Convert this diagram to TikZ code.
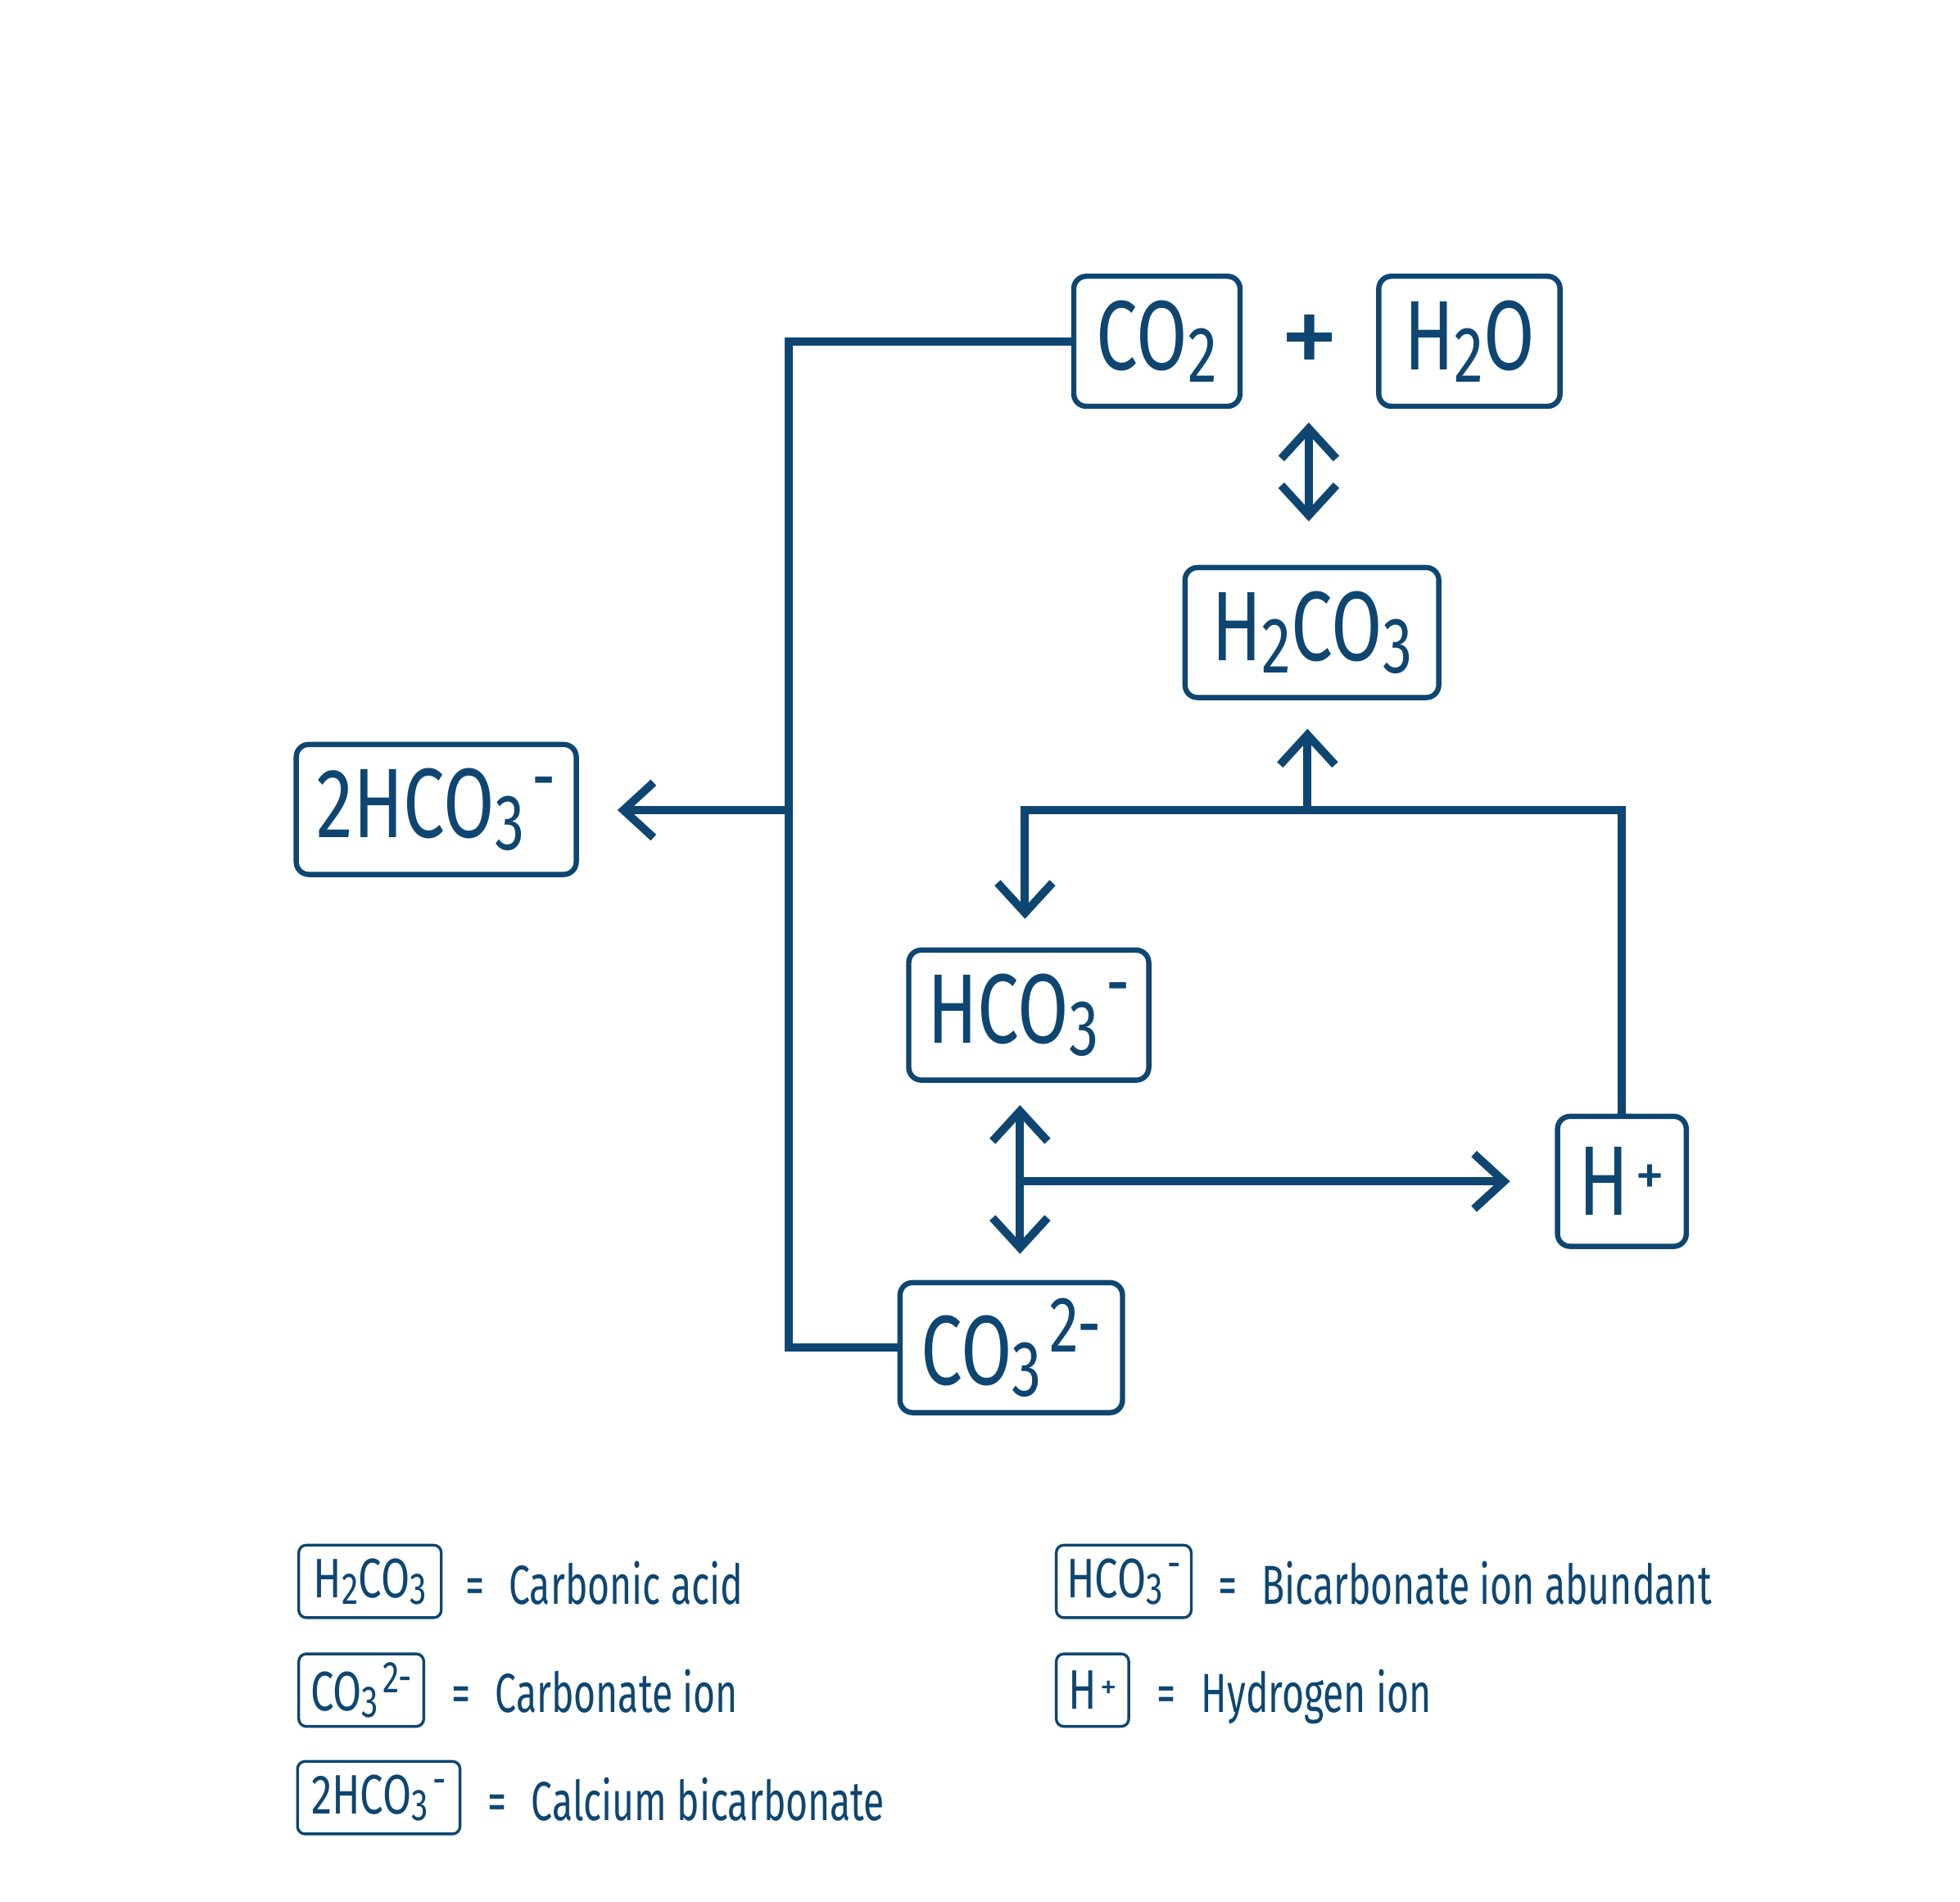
\documentclass[tikz,border=0pt]{standalone}
\usepackage{fontspec}
\setmainfont[FakeStretch=0.75]{Fira Sans}
\newfontfamily\legfont[FakeStretch=0.69]{Fira Sans}
\newfontfamily\plusfont{Fira Sans}
\usetikzlibrary{arrows.meta}
\definecolor{dblue}{HTML}{0E4671}
\newcommand\chsub[1]{\raisebox{-0.12em}{\scalebox{0.8}{#1}}}
\newcommand\chsup[1]{\hspace{0.08em}\raisebox{0.33em}{\scalebox{0.8}{#1}}}
\newcommand\chplus{\hspace{0.06em}\raisebox{0.2em}{\scalebox{0.6}{\plusfont +}}}
\tikzset{
  mbox/.style={draw=dblue, line width=4.2pt, rounded corners=10pt, inner sep=0pt,
    text=dblue, font=\fontsize{79}{80}\selectfont, minimum height=104pt},
  lbox/.style={draw=dblue, line width=2.2pt, rounded corners=6pt, inner sep=0pt,
    text=dblue, font=\fontsize{44.5}{46}\selectfont, minimum height=58pt},
  ltxt/.style={text=dblue, inner sep=0pt, font=\legfont\fontsize{44}{46}\selectfont},
  conn/.style={draw=dblue, line width=6.5pt, line join=miter},
  tip/.tip={Straight Barb[length=24pt, width=44pt, sharp]}
}
\begin{document}
\begin{tikzpicture}[x=1pt, y=-1pt]
\useasboundingbox[fill=white] (0,0) rectangle (1568,1521);

% main boxes
\node[mbox, minimum width=133pt] (co2) at (925.5,273) {CO\chsub{2}};
\node[mbox, minimum width=145pt] (h2o) at (1175.5,273) {H\chsub{2}O};
\node[mbox, minimum width=203pt] (h2co3) at (1049.5,506) {H\chsub{2}CO\chsub{3}};
\node[mbox, minimum width=192pt] (hco3) at (823,812) {HCO\chsub{3}\chsup{-}};
\node[mbox, minimum width=103pt] (hplus) at (1297.5,945) {H\chplus};
\node[mbox, minimum width=178pt] (co3) at (809,1078) {CO\chsub{3}\chsup{2-}};
\node[mbox, minimum width=224pt] (bic) at (349,647.5) {2HCO\chsub{3}\chsup{-}};
\node[text=dblue, inner sep=0pt, font=\plusfont\fontsize{96}{96}\selectfont] (plus) at (1048,277) {+};

% coordinates
\coordinate (bar) at (631,648);
\coordinate (bictip) at (494,648);
\coordinate (da1t) at (1047,338);
\coordinate (da1b) at (1047,417);
\coordinate (j2) at (1046,648);
\coordinate (uptip) at (1046,583);
\coordinate (dntip) at (820,735);
\coordinate (da2t) at (816,884);
\coordinate (da2b) at (816,1003);
\coordinate (j3) at (816,945);
\coordinate (hptip) at (1208,945);

% connectors
\draw[conn] (co2.west) -| (bar) |- (co3.west);
\draw[conn, -{tip}] (bar) -- (bictip);
\draw[conn, {tip}-{tip}] (da1t) -- (da1b);
\draw[conn, -{tip}] (j2) -- (uptip);
\draw[conn, -{tip}] (hplus.north) |- (j2) -| (dntip);
\draw[conn, {tip}-{tip}] (da2t) -- (da2b);
\draw[conn, -{tip}] (j3) -- (hptip);

% legend
\node[lbox, minimum width=114pt] (l1) at (296,1265) {H\chsub{2}CO\chsub{3}};
\node[ltxt, anchor=base] (e1) at (380,1283) {=};
\node[ltxt, anchor=base west] (d1) at (407,1283) {Carbonic acid};

\node[lbox, minimum width=100pt] (l2) at (289,1352) {CO\chsub{3}\chsup{2-}};
\node[ltxt, anchor=base] (e2) at (369,1370) {=};
\node[ltxt, anchor=base west] (d2) at (396,1370) {Carbonate ion};

\node[lbox, minimum width=130pt] (l3) at (303,1438) {2HCO\chsub{3}\chsup{-}};
\node[ltxt, anchor=base] (e3) at (398,1456) {=};
\node[ltxt, anchor=base west] (d3) at (425,1456) {Calcium bicarbonate};

\node[lbox, minimum width=108pt] (l4) at (899,1265) {HCO\chsub{3}\chsup{-}};
\node[ltxt, anchor=base] (e4) at (982,1283) {=};
\node[ltxt, anchor=base west] (d4) at (1009,1283) {Bicarbonate ion abundant};

\node[lbox, minimum width=58pt] (l5) at (874,1352) {H\chplus};
\node[ltxt, anchor=base] (e5) at (933,1370) {=};
\node[ltxt, anchor=base west] (d5) at (961,1370) {Hydrogen ion};
\end{tikzpicture}
\end{document}
